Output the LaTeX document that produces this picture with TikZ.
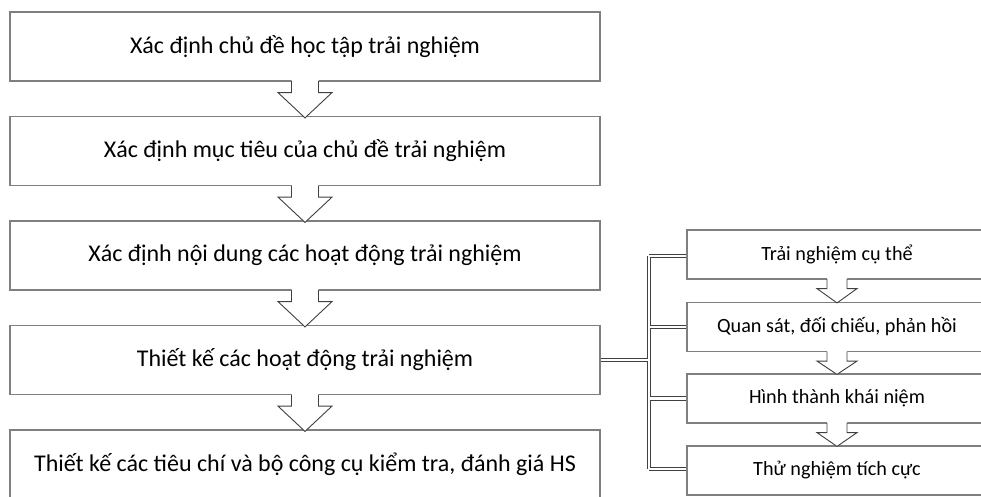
\documentclass[tikz,border=0pt]{standalone}
\usepackage{fontspec}
\setmainfont{Carlito}
\begin{document}
\begin{tikzpicture}[x=1pt,y=-1pt,
  bigbox/.style={draw=boxgray,line width=1.2pt,minimum width=590pt,minimum height=69pt,inner sep=0pt,font=\fontsize{24}{28}\selectfont},
  smallbox/.style={draw=boxgray,line width=1.2pt,minimum width=300pt,minimum height=49pt,inner sep=0pt,font=\fontsize{20.2}{24}\selectfont},
  blockarrow/.style={fill=white,draw=arrowgray,line width=0.9pt,line join=miter},
  dbl/.style={draw=arrowgray,double=white,double distance=2.6pt,line width=0.8pt}]
\definecolor{boxgray}{HTML}{7F7F7F}
\definecolor{arrowgray}{HTML}{404040}
\useasboundingbox (0,0) rectangle (981,496);
\clip (0,0) rectangle (981,496);
% left column
\node[bigbox] (b1) at (305,46.5) {Xác định chủ đề học tập trải nghiệm};
\node[bigbox] (b2) at (305,151) {Xác định mục tiêu của chủ đề trải nghiệm};
\node[bigbox] (b3) at (305,255.5) {Xác định nội dung các hoạt động trải nghiệm};
\node[bigbox] (b4) at (305,360) {Thiết kế các hoạt động trải nghiệm};
\node[bigbox] (b5) at (305,464.5) {Thiết kế các tiêu chí và bộ công cụ kiểm tra, đánh giá HS};
% right column
\node[smallbox] (r1) at (837,254.5) {Trải nghiệm cụ thể};
\node[smallbox] (r2) at (837,327) {Quan sát, đối chiếu, phản hồi};
\node[smallbox] (r3) at (837,398.5) {Hình thành khái niệm};
\node[smallbox] (r4) at (837,470.5) {Thử nghiệm tích cực};
% big block arrows
\foreach \a/\b in {b1/b2,b2/b3,b3/b4,b4/b5}{
  \fill[white] ([xshift=-13.5pt,yshift=1.5pt]\a.south) -- ([xshift=-13.5pt,yshift=-11pt]\a.south)
    -- ([xshift=-27pt,yshift=-11pt]\a.south) -- ([yshift=-2pt]\b.north)
    -- ([xshift=27pt,yshift=-11pt]\a.south) -- ([xshift=13.5pt,yshift=-11pt]\a.south)
    -- ([xshift=13.5pt,yshift=1.5pt]\a.south) -- cycle;
  \draw[blockarrow,fill=none] ([xshift=-13.5pt,yshift=0.6pt]\a.south) -- ([xshift=-13.5pt,yshift=-11pt]\a.south)
    -- ([xshift=-27pt,yshift=-11pt]\a.south) -- ([yshift=-2pt]\b.north)
    -- ([xshift=27pt,yshift=-11pt]\a.south) -- ([xshift=13.5pt,yshift=-11pt]\a.south)
    -- ([xshift=13.5pt,yshift=0.6pt]\a.south);
}
% small block arrows
\foreach \a/\b in {r1/r2,r2/r3,r3/r4}{
  \fill[white] ([xshift=-10pt,yshift=1.5pt]\a.south) -- ([xshift=-10pt,yshift=-9pt]\a.south)
    -- ([xshift=-20pt,yshift=-9pt]\a.south) -- ([yshift=-1pt]\b.north)
    -- ([xshift=20pt,yshift=-9pt]\a.south) -- ([xshift=10pt,yshift=-9pt]\a.south)
    -- ([xshift=10pt,yshift=1.5pt]\a.south) -- cycle;
  \draw[blockarrow,fill=none] ([xshift=-10pt,yshift=0.6pt]\a.south) -- ([xshift=-10pt,yshift=-9pt]\a.south)
    -- ([xshift=-20pt,yshift=-9pt]\a.south) -- ([yshift=-1pt]\b.north)
    -- ([xshift=20pt,yshift=-9pt]\a.south) -- ([xshift=10pt,yshift=-9pt]\a.south)
    -- ([xshift=10pt,yshift=0.6pt]\a.south);
}
% bracket connector
\coordinate (tm) at (649,360);
\coordinate (t1) at (649,256);
\coordinate (t2) at (649,327);
\coordinate (t3) at (649,398.5);
\coordinate (t4) at (649,469);
\draw[dbl] (b4.east) -- (tm) (t1) -- (t4) (t1) -- (t1 -| r1.west) (t2) -- (r2.west) (t3) -- (r3.west) (t4) -- (t4 -| r4.west);
\end{tikzpicture}
\end{document}
